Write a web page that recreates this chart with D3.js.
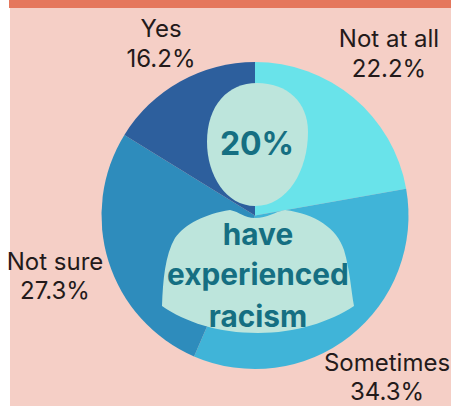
<!DOCTYPE html>
<html><head><meta charset="utf-8">
<script src="https://cdn.jsdelivr.net/npm/d3@7"></script>
<style>html,body{margin:0;padding:0;background:#fff}svg{display:block}</style>
</head><body><svg id="c" width="451" height="406"></svg>
<script>
const categories = ["Not at all", "Sometimes", "Not sure", "Yes"];
const values = [22.2, 34.3, 27.3, 16.2];
const colors = ["#69e3ea", "#40b4d8", "#2e8cbc", "#2d5f9d"];
const labelAnchors = [[389, 47, 77], [387, 371, 400], [55, 270, 299], [161, 37, 67]];
const headline = ["20%"], caption = ["have", "experienced", "racism"];

const svg = d3.select("#c");
svg.append("rect").attr("x", 10).attr("y", 0).attr("width", 441).attr("height", 406).attr("fill", "#f5cfc6");
svg.append("rect").attr("x", 9).attr("y", 0).attr("width", 442).attr("height", 8).attr("fill", "#e5775c");

const g = svg.append("g").attr("transform", "translate(255,215.5)");
const pie = d3.pie().sort(null).value(d => d);
const arc = d3.arc().innerRadius(0).outerRadius(153.5);
g.selectAll("path.slice").data(pie(values)).join("path")
  .attr("class", "slice").attr("fill", (d, i) => colors[i]).attr("d", arc);

// Person silhouette over the pie: a rounded head, then shoulders and torso
const headShape = d3.path();
headShape.moveTo(257, 83);
headShape.bezierCurveTo(287, 83, 308, 102, 308, 132);
headShape.bezierCurveTo(308, 170, 288, 206, 255, 206);
headShape.bezierCurveTo(226, 206, 207, 175, 207, 142);
headShape.bezierCurveTo(207, 105, 228, 83, 257, 83);
headShape.closePath();
svg.append("path").attr("d", headShape.toString()).attr("fill", "#bde5dc");

const torso = d3.path();
torso.moveTo(230, 210);
torso.bezierCurveTo(240, 212, 244, 218, 255, 218);
torso.bezierCurveTo(268, 218, 274, 212, 285, 210);
torso.bezierCurveTo(315, 214, 337, 228, 344, 250);
torso.bezierCurveTo(350, 270, 351, 290, 354, 306);
torso.bezierCurveTo(330, 322, 295, 333, 258, 333);
torso.bezierCurveTo(218, 333, 185, 322, 162, 306);
torso.bezierCurveTo(163, 280, 165, 255, 175, 238);
torso.bezierCurveTo(185, 224, 205, 214, 230, 210);
torso.closePath();
svg.append("path").attr("d", torso.toString()).attr("fill", "#bde5dc");

const sans = "Inter, 'Open Sans', sans-serif";
svg.append("g").selectAll("text").data(headline).join("text")
  .attr("x", 257).attr("y", 155).attr("text-anchor", "middle")
  .attr("font-family", sans).attr("font-size", 32).attr("font-weight", 700).attr("fill", "#156f82").text(d => d);
svg.append("g").selectAll("text").data(caption).join("text")
  .attr("x", 258).attr("y", (d, i) => [245, 285, 327][i]).attr("text-anchor", "middle")
  .attr("font-family", sans).attr("font-size", 29.8).attr("font-weight", 700).attr("fill", "#156f82").text(d => d);

const lab = svg.append("g").attr("font-family", sans).attr("font-size", 24).attr("fill", "#231a1a").attr("text-anchor", "middle");
categories.forEach((c, i) => {
  const [x, y1, y2] = labelAnchors[i];
  lab.append("text").attr("x", x).attr("y", y1).text(c);
  lab.append("text").attr("x", x).attr("y", y2).text(values[i].toFixed(1) + "%");
});
</script></body></html>
